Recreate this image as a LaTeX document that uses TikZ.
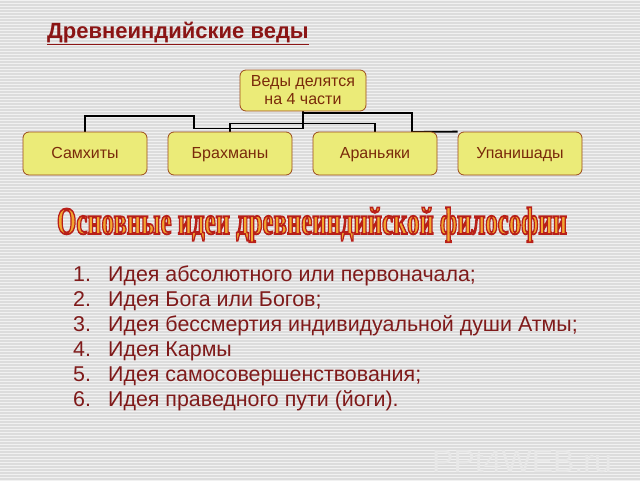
\documentclass[tikz,border=0pt]{standalone}
\usepackage{fontspec}
\setmainfont{Liberation Sans}
\newfontfamily\headfont{Liberation Serif}
\usetikzlibrary{calc}
\definecolor{bgA}{HTML}{DCDCDC}
\definecolor{bgB}{HTML}{F1F1F1}
\definecolor{ttl}{HTML}{8B1515}
\definecolor{boxfill}{HTML}{EBEB78}
\definecolor{boxline}{HTML}{9C4A1A}
\definecolor{boxtext}{HTML}{7A2A0A}
\definecolor{listtext}{HTML}{7F1A1A}
\definecolor{hfill}{HTML}{F2A630}
\definecolor{wm}{HTML}{E8E8E8}
\pgfdeclarelayer{bg}
\pgfsetlayers{bg,main}
\newcommand\headtxt{\resizebox*{510pt}{35pt}{\headfont\bfseries\fontsize{34}{40}\selectfont\special{pdf:code 0.72 0.12 0.1 RG 1.6 w 2 Tr}Основные идеи древнеиндийской философии\special{pdf:code 0 Tr}}}
\begin{document}
\begin{tikzpicture}[x=1pt,y=-1pt,
  vbox/.style={draw=boxline, line width=0.8pt, fill=boxfill, rounded corners=6pt, minimum width=124pt, minimum height=43pt, text=boxtext, font=\fontsize{16}{18}\selectfont, inner sep=0pt, align=center},
  lowbox/.style={vbox, text height=12.5pt, text depth=2pt},
  conn/.style={draw=black, line width=1.8pt},
  item/.style={anchor=base west, text=listtext, font=\fontsize{21.4}{25}\selectfont, inner sep=0pt},
  head/.style={anchor=base, inner sep=0pt}]
\useasboundingbox (0,0) rectangle (640,480);
% boxes
\node[vbox, minimum width=126pt, minimum height=41pt] (top) at (303,90.5) {Веды делятся\\на 4 части};
\node[lowbox] (sam) at (85,153.5) {Самхиты};
\node[lowbox] (bra) at (230,153.5) {Брахманы};
\node[lowbox] (ara) at (375,153.5) {Араньяки};
\node[lowbox] (upa) at (520,153.5) {Упанишады};
\begin{pgfonlayer}{bg}
  \fill[bgA] (0,0) rectangle (640,480);
  \foreach \y in {0,3,...,480} \fill[bgB] (0,\y) rectangle (640,\y+1.4);
  \coordinate (s1) at ($(top.south)+(0,17)$);
  \coordinate (s2) at (194,116);
  \coordinate (b1) at ($(top.south)+(0,12)$);
  \coordinate (u1) at ($(top.south)+(0,1.5)$);
  \coordinate (u2) at (412,132);
  \draw[conn] (top.south) -- (s1) -| (s2) -| (sam.north);
  \draw[conn] (top.south) -- (b1) -| (bra.north);
  \draw[conn] (b1) -| (ara.north);
  \draw[conn] (u1) -| (u2) -- (upa.north west);
\end{pgfonlayer}
% title
\node[anchor=base west, inner sep=0pt, text=ttl, font=\bfseries\fontsize{22}{26}\selectfont] (title) at (47,38) {\underline{Древнеиндийские веды}};
% heading (filled and outlined text)
\node[head, text=hfill] (heading) at (312,234) {\headtxt};
% list
\foreach \n/\t [count=\i from 0] in {1/Идея абсолютного или первоначала;,2/Идея Бога или Богов;,3/Идея бессмертия индивидуальной души Атмы;,4/Идея Кармы,5/Идея самосовершенствования;,6/Идея праведного пути (йоги).}{
  \node[item] (n\n) at (73,281+25*\i) {\n.};
  \node[item] (t\n) at (108,281+25*\i) {\t};
}
% watermark
\node[anchor=base west, inner sep=0pt, text=wm, font=\fontsize{32}{36}\selectfont] (wm) at (432,472) {PPt4WEB.ru};
\end{tikzpicture}
\end{document}
